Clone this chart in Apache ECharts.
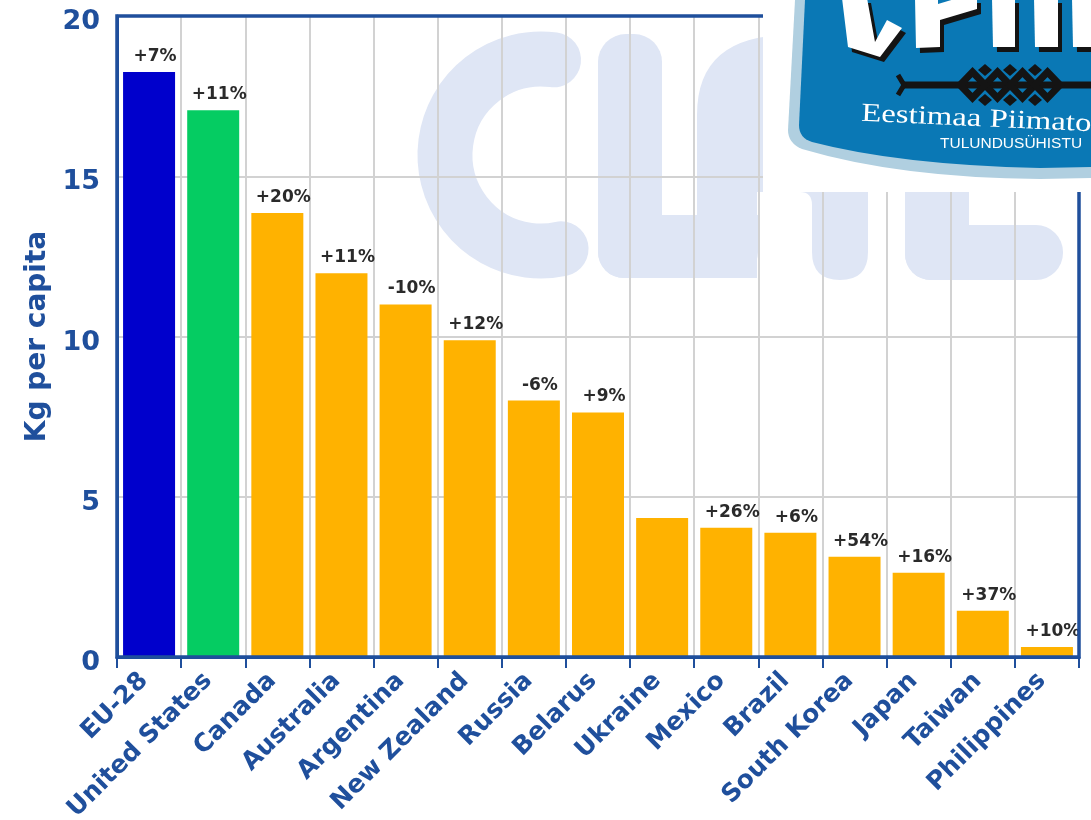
<!DOCTYPE html>
<html><head><meta charset="utf-8">
<style>html,body{margin:0;padding:0;background:#fff}#c{width:1091px;height:820px}</style>
<script src="https://cdn.jsdelivr.net/npm/echarts@6/dist/echarts.min.js"></script>
</head><body><div id="c"></div>
<script>
const categories = ['EU-28','United States','Canada','Australia','Argentina','New Zealand','Russia','Belarus','Ukraine','Mexico','Brazil','South Korea','Japan','Taiwan','Philippines'];
const kgPerCapita = [18.25,17.06,13.85,11.97,11.0,9.88,8.0,7.63,4.34,4.03,3.88,3.13,2.63,1.44,0.31];
const changeLabels = ['+7%','+11%','+20%','+11%','-10%','+12%','-6%','+9%','','+26%','+6%','+54%','+16%','+37%','+10%'];
const barColors = ['#0000cc','#05cc62','#ffb200','#ffb200','#ffb200','#ffb200','#ffb200','#ffb200','#ffb200','#ffb200','#ffb200','#ffb200','#ffb200','#ffb200','#ffb200'];
const yTicks = {min:0,max:20,interval:5};
const BLUE='#1f4f9c', WM='#dfe6f5', GRID='#d2d2d2', SHIELD='#0a78b5', RIM='#b0cfe0', FONT='"DejaVu Sans",Verdana,sans-serif';

const reg=(name,d)=>echarts.graphic.registerShape(name,echarts.graphic.extendPath(d,{}));
reg('wmA','M697 278 L697 115 Q697 35 790 35 L868 35 L868 252 Q868 280 840 280 Q812 280 812 252 L812 205 Q812 192 800 192 L757 192 L757 278 Z');
reg('shieldRim','M795 0 L788 130 Q788 143 802 149 Q900 178 1040 179 L1091 178 L1091 0 Z');
reg('shieldFill','M805 0 L799 125 Q799 138 812 142 Q900 165 1040 168 L1091 167 L1091 0 Z');

const wm = z => ({silent:true,z:-10,...z});
const watermark = [
  wm({type:'arc',shape:{cx:541,cy:155,r:96,startAngle:-1.44,endAngle:1.36,clockwise:false},style:{fill:'none',stroke:WM,lineWidth:55,lineCap:'round'}}),
  wm({type:'rect',shape:{x:598,y:34,width:64,height:244,r:[28,28,0,26]},style:{fill:WM}}),
  wm({type:'rect',shape:{x:598,y:215,width:160,height:63,r:[0,0,26,26]},style:{fill:WM}}),
  wm({type:'wmA',style:{fill:WM}}),
  wm({type:'rect',shape:{x:905,y:100,width:64,height:180,r:[0,0,0,26]},style:{fill:WM}}),
  wm({type:'rect',shape:{x:905,y:225,width:158,height:55,r:[0,27,27,26]},style:{fill:WM}})
];
const frame = {type:'rect',silent:true,z:50,shape:{x:117,y:16,width:962,height:641},style:{fill:'none',stroke:BLUE,lineWidth:3.5}};

const lg = z => ({silent:true,z:100,...z});
const poly = (pts,fill) => lg({type:'polygon',shape:{points:pts},style:{fill}});
const shift = (pts,dx,dy) => pts.map(p=>[p[0]+dx,p[1]+dy]);
const letterC=[[842,-2],[848,47],[880,57],[902,28],[887,20],[875,42],[867,-2]];
const letterP=[[915,-2],[916,48],[940,47],[940,20],[977,9],[977,-2]];
const letterI1=[[992,-2],[993,47],[1015,47],[1015,-2]];
const letterI2=[[1034,-2],[1035,47],[1058,47],[1058,-2]];
const letterI3=[[1072,-2],[1073,47],[1095,47],[1095,-2]];
const letters=[letterC,letterP,letterI1,letterI2,letterI3];
const logo = [
  lg({type:'rect',shape:{x:763,y:0,width:328,height:192},style:{fill:'#fff'}}),
  lg({type:'shieldRim',style:{fill:RIM}}),
  lg({type:'shieldFill',style:{fill:SHIELD}}),
  ...letters.map(l=>poly(shift(l,4,5),'#141414')),
  ...letters.map(l=>poly(l,'#fff')),
  poly([[938,-2],[958,-2],[938,4]],SHIELD),
  lg({type:'line',shape:{x1:901,y1:85,x2:1091,y2:85},style:{stroke:'#141414',lineWidth:7}}),
  lg({type:'polyline',shape:{points:[[898,75],[904,85],[898,95]]},style:{stroke:'#141414',lineWidth:5,fill:'none'}}),
  ...[997.5,1022.5,972.5,1047.5].map(cx=>lg({type:'polygon',shape:{points:[[cx,72],[cx+12.5,85],[cx,98],[cx-12.5,85]]},style:{fill:'none',stroke:'#141414',lineWidth:7}})),
  ...[985,1010,1035].flatMap(cx=>[[cx,70],[cx,100]]).map(p=>poly([[p[0],p[1]-6],[p[0]+7,p[1]],[p[0],p[1]+6],[p[0]-7,p[1]]],'#141414')),
  lg({type:'text',x:862,y:101,rotation:-0.045,scaleX:1.26,style:{text:'Eestimaa Piimato',fill:'#fff',font:'26px "Liberation Serif",serif',textAlign:'left',textVerticalAlign:'top'}}),
  lg({type:'text',x:940,y:136,style:{text:'TULUNDUSÜHISTU',fill:'#fff',font:'15.5px "Liberation Sans",sans-serif',textAlign:'left',textVerticalAlign:'top'}})
];

const chart = echarts.init(document.getElementById('c'),null,{renderer:'canvas'});
chart.setOption({
  animation:false,
  backgroundColor:'#fff',
  grid:{left:117,right:12,top:16,bottom:163,show:false,outerBoundsMode:'none'},
  xAxis:{type:'category',data:categories,
    axisLine:{show:true,lineStyle:{color:BLUE,width:3}},
    axisTick:{show:true,length:11,alignWithLabel:false,lineStyle:{color:BLUE,width:2}},
    splitLine:{show:true,showMinLine:false,showMaxLine:false,lineStyle:{color:GRID,width:2}},
    axisLabel:{interval:0,rotate:45,margin:15,padding:[0,7,0,0],color:BLUE,fontFamily:FONT,fontWeight:'bold',fontSize:25}},
  yAxis:{type:'value',min:yTicks.min,max:yTicks.max,interval:yTicks.interval,
    name:'Kg per capita',nameLocation:'middle',nameGap:65,nameRotate:90,
    nameTextStyle:{color:BLUE,fontFamily:FONT,fontWeight:'bold',fontSize:28},
    axisLine:{show:true,lineStyle:{color:BLUE,width:3}},axisTick:{show:false},
    splitLine:{show:true,showMinLine:false,showMaxLine:false,lineStyle:{color:GRID,width:2}},
    axisLabel:{margin:17,color:BLUE,fontFamily:FONT,fontWeight:'bold',fontSize:27,verticalAlign:'top',lineHeight:12}},
  series:[{type:'bar',barWidth:52,
    data:kgPerCapita.map((v,i)=>({value:v,itemStyle:{color:barColors[i]}})),
    label:{show:true,position:'top',distance:7,offset:[6,0],color:'#2a2a2a',fontFamily:FONT,fontWeight:'bold',fontSize:17,
      formatter:p=>changeLabels[p.dataIndex]}}],
  graphic:{elements:[...watermark,frame,...logo]}
});
</script></body></html>
